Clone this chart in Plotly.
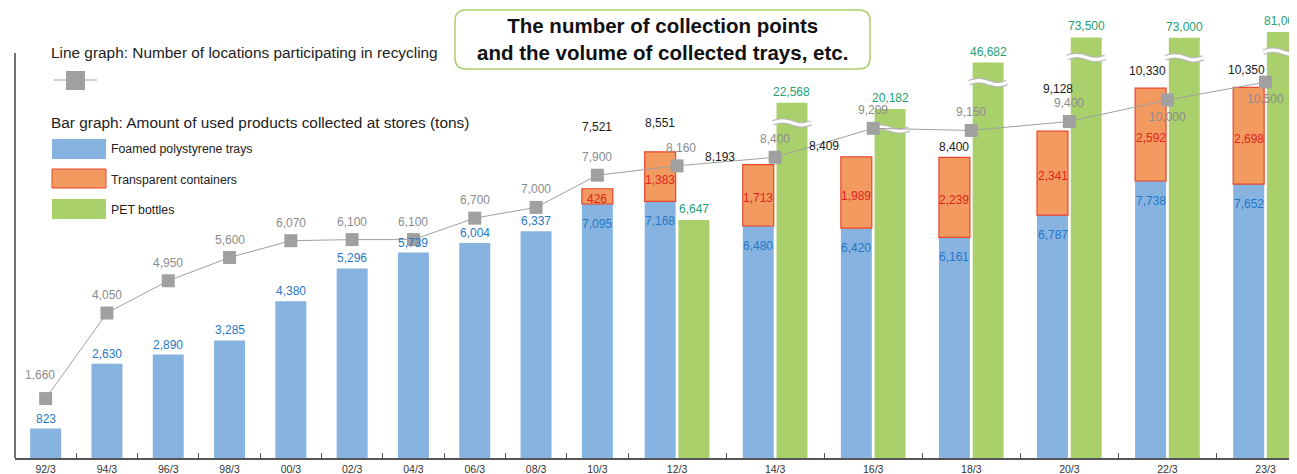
import numpy as np
import plotly.graph_objects as go

# ---------------- data ----------------
categories = ["92/3", "94/3", "96/3", "98/3", "00/3", "02/3", "04/3", "06/3", "08/3",
              "10/3", "12/3", "14/3", "16/3", "18/3", "20/3", "22/3", "23/3"]
locations = [1660, 4050, 4950, 5600, 6070, 6100, 6100, 6700, 7000,
             7900, 8160, 8400, 9209, 9150, 9400, 10000, 10500]
trays = [823, 2630, 2890, 3285, 4380, 5296, 5739, 6004, 6337,
         7095, 7168, 6480, 6420, 6161, 6787, 7738, 7652]
containers = [None] * 9 + [426, 1383, 1713, 1989, 2239, 2341, 2592, 2698]
pet_bottles = [None] * 10 + [6647, 22568, 20182, 46682, 73500, 73000, 81000]

# ---------------- geometry / style ----------------
PAGE = 8                # browser body margin
W, H = 1297 - PAGE, 474 - PAGE
ML, MB = 15 - PAGE, 16
PW, PH = W - ML, H - MB
BASE_Y = 458            # screen y of the x axis
UNIT_PX = 61.3          # px per single-bar category
TON_PX = 0.0358         # px per ton
BW = 0.505              # bar width (category units)
OFF = 0.275             # offset of paired bars
PAIR_W = 1.6            # width of a category holding two bars

FONT = "Liberation Sans"
C_BLUE, C_BLUE_T = "#87b3e0", "#1f78c8"
C_ORANGE, C_ORANGE_L, C_RED_T = "#f39a60", "#e8452c", "#e0231c"
C_GREEN, C_GREEN_T = "#aad06b", "#23a074"
C_GRAY, C_GRAY_T = "#a0a0a0", "#8c8c8c"

widths = np.array([PAIR_W if p is not None else 1.0 for p in pet_bottles])
edges = np.concatenate([[0], np.cumsum(widths)])
centers = edges[:-1] + widths / 2
has_pet = [p is not None for p in pet_bottles]
tray_x = [c - OFF if hp else c for c, hp in zip(centers, has_pet)]
pet_x = [c + OFF for c, hp in zip(centers, has_pet) if hp]
pet_vals = [p for p in pet_bottles if p is not None]


def compress(v):
    """broken-axis display height for tall PET bars"""
    return v if v <= 12000 else 9735 + 1547 * np.log(v / 20000)


pet_disp = [compress(v) for v in pet_vals]
broken = [v > 12000 for v in pet_vals]

fig = go.Figure()

fig.add_trace(go.Bar(x=tray_x, y=trays, width=BW, marker=dict(color=C_BLUE, line=dict(width=0)),
                     name="Foamed polystyrene trays", hoverinfo="y"))
ox = [x for x, c in zip(tray_x, containers) if c is not None]
oy = [c for c in containers if c is not None]
ob = [t for t, c in zip(trays, containers) if c is not None]
fig.add_trace(go.Bar(x=ox, y=oy, base=ob, width=BW,
                     marker=dict(color=C_ORANGE, line=dict(color=C_ORANGE_L, width=1.2)),
                     name="Transparent containers", hoverinfo="y"))
fig.add_trace(go.Bar(x=pet_x, y=pet_disp, width=BW, marker=dict(color=C_GREEN, line=dict(width=0)),
                     name="PET bottles", customdata=pet_vals, hovertemplate="%{customdata}<extra></extra>"))

# break marks on compressed bars
for x, d, b in zip(pet_x, pet_disp, broken):
    if not b:
        continue
    xs = x + np.linspace(-0.31, 0.31, 9)
    ys = d - 560 + 55 * np.sin(np.linspace(0, 2 * np.pi, 9))
    fig.add_trace(go.Scatter(x=xs, y=ys, mode="lines", line=dict(color="#b9b9b9", width=5.5, shape="spline"),
                             hoverinfo="skip", showlegend=False))
    fig.add_trace(go.Scatter(x=xs, y=ys, mode="lines", line=dict(color="white", width=3.2, shape="spline"),
                             hoverinfo="skip", showlegend=False))

fig.add_trace(go.Scatter(x=centers, y=locations, mode="lines+markers",
                         line=dict(color=C_GRAY, width=1),
                         marker=dict(symbol="square", size=13, color=C_GRAY),
                         name="Locations", hoverinfo="y"))

ann = []


def lab(x, y, text, color, dx=0, dy=0, size=12):
    ann.append(dict(x=x, y=y, xref="x", yref="y", text=text, showarrow=False,
                    xshift=dx, yshift=dy, font=dict(family=FONT, size=size, color=color)))


fmt = lambda v: f"{v:,}"

# tray labels
for x, t, c in zip(tray_x, trays, containers):
    if c is None:
        lab(x, t, fmt(t), C_BLUE_T, dy=10)
    else:
        lab(x, t, fmt(t), C_BLUE_T, dy=-20)
# container labels
for x, t, c in zip(tray_x, trays, containers):
    if c is not None:
        lab(x, t + c / 2, fmt(c), C_RED_T, dy=-3)
# total labels (with hand nudges as in the original)
total_nudge = [(0, 62), (0, 29), (-38, 8), (-32, 11), (0, 10), (5, 42), (-3, 17), (-2, 17)]
k = 0
for x, t, c in zip(tray_x, trays, containers):
    if c is not None:
        dx, dy = total_nudge[k]
        k += 1
        lab(x, t + c, fmt(t + c), "#1a1a1a", dx=dx, dy=dy)
# PET labels
for x, d, v in zip(pet_x, pet_disp, pet_vals):
    lab(x, d, fmt(v), C_GREEN_T, dy=11)
# line labels
n = len(locations)
for i, (x, v) in enumerate(zip(centers, locations)):
    dy = -17 if i >= n - 2 else 18
    dx = -6 if i == 0 else (4 if categories[i] == "12/3" else 0)
    if i == 0:
        dy = 24
    lab(x, v, fmt(v), C_GRAY_T, dx=dx, dy=dy)


# ---------------- decorations in screen-pixel space ----------------
def px(xs):
    return (xs - PAGE - ML) / PW


def py(ys):
    return (BASE_Y - ys) / PH


shapes = []
# left axis line
shapes.append(dict(type="line", xref="paper", yref="paper", x0=0, x1=0, y0=0, y1=py(53),
                   line=dict(color="#444", width=1.5)))
# legend: line symbol
shapes.append(dict(type="line", xref="paper", yref="paper", x0=px(54), x1=px(97), y0=py(80), y1=py(80),
                   line=dict(color=C_GRAY, width=1)))
shapes.append(dict(type="rect", xref="paper", yref="paper", x0=px(66), x1=px(85), y0=py(90), y1=py(71),
                   fillcolor=C_GRAY, line=dict(width=0)))
# legend swatches
for (y0, y1), col, lc in [((139, 159), C_BLUE, None), ((169, 188), C_ORANGE, C_ORANGE_L),
                          ((199, 219), C_GREEN, None)]:
    shapes.append(dict(type="rect", xref="paper", yref="paper", x0=px(52), x1=px(106), y0=py(y1), y1=py(y0),
                       fillcolor=col, line=dict(color=lc or col, width=1 if lc else 0)))


def rounded(x0, y0, x1, y1, r):
    P = lambda a, b: f"{px(a):.5f},{py(b):.5f}"
    return (f"M {P(x0 + r, y0)} L {P(x1 - r, y0)} Q {P(x1, y0)} {P(x1, y0 + r)} "
            f"L {P(x1, y1 - r)} Q {P(x1, y1)} {P(x1 - r, y1)} L {P(x0 + r, y1)} "
            f"Q {P(x0, y1)} {P(x0, y1 - r)} L {P(x0, y0 + r)} Q {P(x0, y0)} {P(x0 + r, y0)} Z")


shapes.append(dict(type="path", xref="paper", yref="paper", path=rounded(455, 10, 870, 69, 11),
                   fillcolor="white", line=dict(color=C_GREEN, width=1.5)))


def ptext(x, y, text, size, bold=False, xanchor="left", color="#222"):
    ann.append(dict(x=px(x), y=py(y), xref="paper", yref="paper", text=f"<b>{text}</b>" if bold else text,
                    showarrow=False, xanchor=xanchor, yanchor="middle",
                    font=dict(family=FONT, size=size, color=color)))


ptext(49, 53, "Line graph: Number of locations participating in recycling", 15.4)
ptext(49, 123, "Bar graph: Amount of used products collected at stores (tons)", 15.4)
ptext(109, 149, "Foamed polystyrene trays", 12.3)
ptext(109, 180, "Transparent containers", 12.3)
ptext(109, 210, "PET bottles", 12.3)
ann.append(dict(x=px(662), y=py(39), xref="paper", yref="paper", showarrow=False,
                text="<b>The number of collection points<br>and the volume of collected trays, etc.</b>",
                align="center", xanchor="center", yanchor="middle",
                font=dict(family=FONT, size=20.5, color="#111")))

fig.update_layout(
    width=W, height=H, margin=dict(l=ML, r=0, t=0, b=MB, autoexpand=False),
    paper_bgcolor="white", plot_bgcolor="white",
    barmode="overlay", showlegend=False,
    font=dict(family=FONT, size=12),
    shapes=shapes, annotations=ann,
    xaxis=dict(range=[0, PW / UNIT_PX], tickmode="array", tickvals=centers, ticktext=categories,
               ticks="", showline=True, linecolor="#555", linewidth=1.5, showgrid=False, zeroline=False,
               automargin=False,
               tickfont=dict(family=FONT, size=10.5, color="#333"), ticklabelstandoff=1,
               minor=dict(tickmode="array", tickvals=list(edges[1:]), ticks="inside", ticklen=5,
                          tickcolor="#555", tickwidth=1, showgrid=False)),
    yaxis=dict(range=[0, PH / TON_PX], visible=False, showgrid=False, zeroline=False, automargin=False),
)

fig.write_html("out.html")
